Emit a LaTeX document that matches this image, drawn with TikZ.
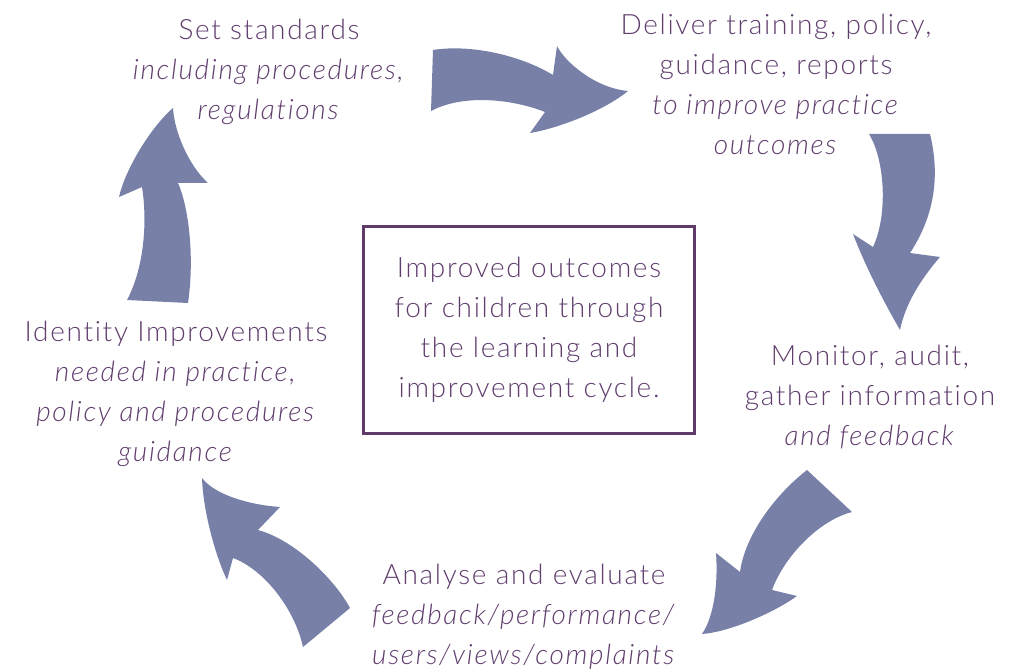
\documentclass[tikz,border=0pt]{standalone}
\usepackage{fontspec}
\setmainfont{Lato}[UprightFont=* Light,ItalicFont=* Light Italic,LetterSpace=6,Ligatures=NoCommon]
\definecolor{arrowfill}{RGB}{120,128,168}
\definecolor{txt}{RGB}{96,62,110}
\definecolor{boxline}{RGB}{96,58,104}
\begin{document}
\begin{tikzpicture}[x=1pt,y=-1pt,
  lbl/.style={align=center,text=txt,font=\fontsize{28}{40}\selectfont,inner sep=0pt},
  bigarrow/.style={fill=arrowfill,draw=none}]
\useasboundingbox (0,0) rectangle (1022,671);
% labels
\node[lbl] (set) at (269,72) {Set standards\\\textit{including procedures,}\\\textit{regulations}};
\node[lbl] (deliver) at (776,84) {Deliver training, policy,\\guidance, reports\\\textit{to improve practice}\\\textit{outcomes}};
\node[lbl] (monitor) at (870,397) {Monitor, audit,\\gather information\\\textit{and feedback}};
\node[lbl] (analyse) at (524,617) {Analyse and evaluate\\\textit{feedback/performance/}\\\textit{users/views/complaints}};
\node[lbl] (identity) at (176,394) {Identity Improvements\\\textit{needed in practice,}\\\textit{policy and procedures}\\\textit{guidance}};
\node[draw=boxline,line width=3pt,minimum width=331pt,minimum height=207pt,inner sep=0pt] (box) at (529,330) {};
\node[lbl] (boxtext) at (529,330) {Improved outcomes\\for children through\\the learning and\\improvement cycle.};
% arrow 1 (top)
\fill[bigarrow] (433,50) .. controls (470,44) and (520,55) .. (553,75) -- (557,46)
  .. controls (565,62) and (595,88) .. (628,91)
  .. controls (605,110) and (560,128) .. (530,133) -- (545,112)
  .. controls (515,100) and (465,93) .. (431,111) -- cycle;
% arrow 2 (right)
\fill[bigarrow] (869,134) -- (930,134) .. controls (940,175) and (935,215) .. (910,253) -- (940,257)
  .. controls (920,280) and (905,305) .. (900,330)
  .. controls (880,295) and (865,265) .. (853,234) -- (873,247)
  .. controls (888,215) and (885,160) .. (869,134) -- cycle;
% arrow 3 (bottom right)
\fill[bigarrow] (807,470) -- (852,512) .. controls (820,520) and (785,555) .. (772,590) -- (797,596)
  .. controls (775,612) and (730,632) .. (702,634)
  .. controls (715,615) and (718,580) .. (716,553) -- (740,572)
  .. controls (745,535) and (775,495) .. (807,470) -- cycle;
% arrow 4 (bottom left)
\fill[bigarrow] (350,608) -- (303,647) .. controls (295,610) and (265,570) .. (233,558) -- (227,580)
  .. controls (215,555) and (203,510) .. (202,478)
  .. controls (215,495) and (250,505) .. (280,507) -- (258,530)
  .. controls (295,540) and (335,580) .. (350,608) -- cycle;
% arrow 5 (left)
\fill[bigarrow] (127,300) -- (188,303) .. controls (195,255) and (188,205) .. (178,183) -- (208,183)
  .. controls (188,165) and (174,130) .. (173,108)
  .. controls (150,128) and (125,170) .. (119,197) -- (142,187)
  .. controls (148,225) and (143,270) .. (127,300) -- cycle;
\end{tikzpicture}
\end{document}
